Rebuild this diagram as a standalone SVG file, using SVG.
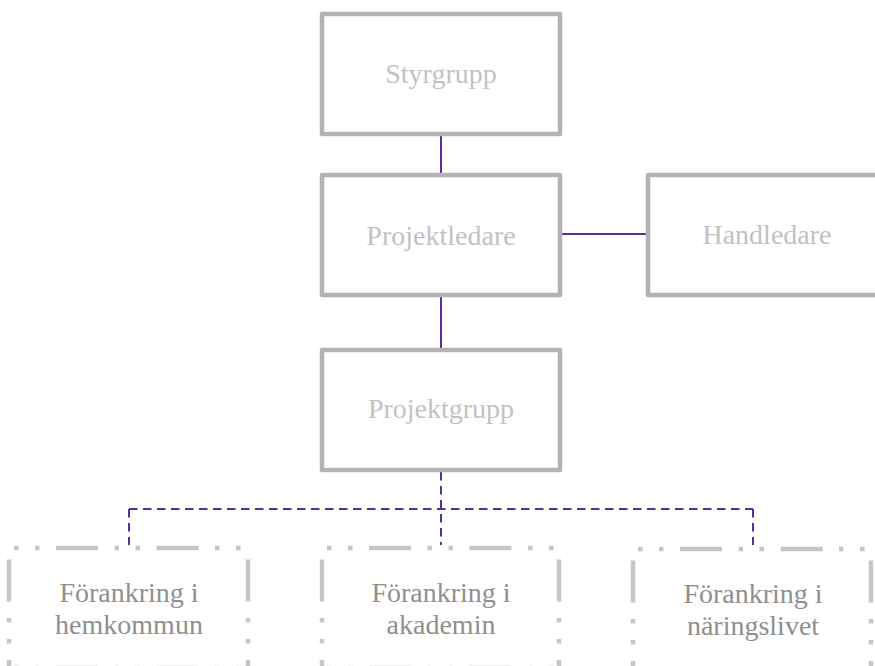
<svg xmlns="http://www.w3.org/2000/svg" width="875" height="666" viewBox="0 0 875 666">
<style>
.box{fill:#fff;stroke:#b3b3b3;stroke-width:4.5;stroke-linejoin:round}
.t{font-family:"Liberation Serif","Times New Roman",serif;font-size:28px;text-anchor:middle}
.tl{fill:#c2c2c2}
.td{fill:#8f8f8f}
.solid{stroke:#5b2d9b;stroke-width:2;fill:none}
.dash{stroke:#5b2d9b;stroke-width:2;fill:none;stroke-dasharray:8.5 5.5}
.dd{stroke:#c6c6c6;stroke-width:4.5;fill:none;stroke-dasharray:42 16.5 4.5 16.5 4.5 16.5}
.h{stroke-dashoffset:53.5}
.v{stroke-dashoffset:89}
</style>
<rect width="875" height="666" fill="#fff"/>
<g id="connectors">
<line class="solid" x1="441" y1="136" x2="441" y2="173"/>
<line class="solid" x1="562" y1="234" x2="646" y2="234"/>
<line class="solid" x1="441" y1="297" x2="441" y2="348"/>
<line class="dash" x1="441" y1="472" x2="441" y2="545"/>
<line class="dash" x1="129" y1="509" x2="753" y2="509"/>
<line class="dash" x1="129" y1="509" x2="129" y2="545"/>
<line class="dash" x1="753" y1="509" x2="753" y2="545"/>
</g>
<g id="styrgrupp">
<rect class="box" x="322" y="14" width="238" height="120"/>
<text class="t tl" x="441" y="83">Styrgrupp</text>
</g>
<g id="projektledare">
<rect class="box" x="322" y="175" width="238" height="120"/>
<text class="t tl" x="441" y="245">Projektledare</text>
</g>
<g id="handledare">
<rect class="box" x="648" y="175" width="240" height="120"/>
<text class="t tl" x="767" y="244">Handledare</text>
</g>
<g id="projektgrupp">
<rect class="box" x="322" y="350" width="238" height="120"/>
<text class="t tl" x="441" y="418">Projektgrupp</text>
</g>
<g id="hemkommun">
<line class="dd h" x1="9" y1="548" x2="248" y2="548"/>
<line class="dd v" x1="9" y1="548" x2="9" y2="668"/>
<line class="dd v" x1="248" y1="548" x2="248" y2="668"/>
<line class="dd h" x1="9" y1="668" x2="248" y2="668"/>
<text class="t td" x="129" y="602">Förankring i</text>
<text class="t td" x="129" y="634">hemkommun</text>
</g>
<g id="akademin">
<line class="dd h" x1="322" y1="548" x2="559" y2="548"/>
<line class="dd v" x1="322" y1="548" x2="322" y2="668"/>
<line class="dd v" x1="559" y1="548" x2="559" y2="668"/>
<line class="dd h" x1="322" y1="668" x2="559" y2="668"/>
<text class="t td" x="441" y="602">Förankring i</text>
<text class="t td" x="441" y="634">akademin</text>
</g>
<g id="naringslivet">
<line class="dd h" x1="633" y1="549" x2="871" y2="549"/>
<line class="dd v" x1="633" y1="549" x2="633" y2="669"/>
<line class="dd v" x1="871" y1="549" x2="871" y2="669"/>
<line class="dd h" x1="633" y1="669" x2="871" y2="669"/>
<text class="t td" x="753" y="603">Förankring i</text>
<text class="t td" x="753" y="635">näringslivet</text>
</g>
</svg>
